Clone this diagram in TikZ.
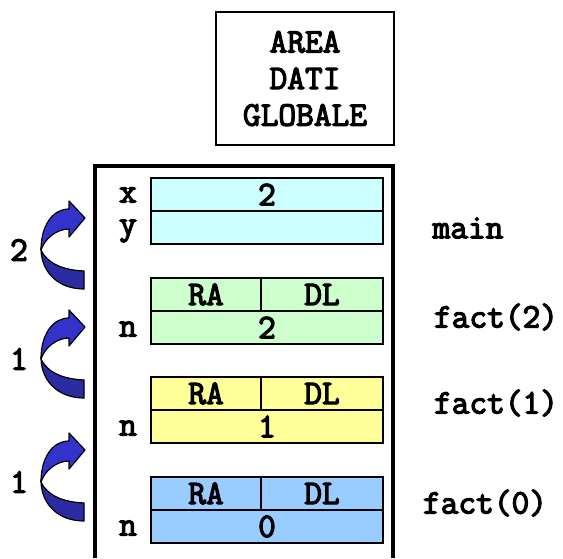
\documentclass[tikz,border=0pt]{standalone}
\usepackage{fontspec}
\setmonofont{Latin Modern Mono}[AutoFakeBold=3.6]
\usepackage{tikz}
\usepackage[rgb]{xcolor}

\definecolor{ciano}{HTML}{CCFFFF}
\definecolor{verde}{HTML}{CCFFCC}
\definecolor{giallo}{HTML}{FFFF99}
\definecolor{azzurro}{HTML}{99CCFF}
\definecolor{blu}{HTML}{3333CC}
\definecolor{bluscuro}{HTML}{2B2BA3}

\tikzset{
	testo/.style={font=\fontsize{17.2}{18.3}\selectfont\ttfamily\bfseries, inner sep=0pt},
	cella/.style={testo, draw, line width=1pt, minimum height=16.5pt},
	intera/.style={cella, minimum width=116pt},
	sinistra/.style={cella, minimum width=55pt},
	destra/.style={cella, minimum width=61pt},
}

\begin{document}
\begin{tikzpicture}[x=0.5pt,y=-0.5pt]
	\useasboundingbox (0,0) rectangle (563,558);
	% area dati globale
	\node[testo, draw, line width=1pt, minimum width=89pt, minimum height=66.5pt, align=center] (globale) at (305,78.5) {AREA\\DATI\\GLOBALE};
	% bordo dello stack
	\draw[line width=1.8pt] (95,558) -- (95,166) -- (393,166) -- (393,558);
	% record del main
	\node[intera, fill=ciano] (mx) at (267,194.5) {2};
	\node[intera, fill=ciano] (my) at (267,227.5) {};
	\node[testo] (lx) at (128,195) {x};
	\node[testo] (ly) at (128,231) {y};
	\node[testo] (main) at (468,228) {main};
	% record di fact(2)
	\node[sinistra, fill=verde] (ra2) at (206,294.5) {RA};
	\node[destra, fill=verde] (dl2) at (322,294.5) {DL};
	\node[intera, fill=verde] (n2) at (267,327.5) {2};
	\node[testo] (ln2) at (128,329) {n};
	\node[testo] (f2) at (496,317) {fact(2)};
	% record di fact(1)
	\node[sinistra, fill=giallo] (ra1) at (206,393.5) {RA};
	\node[destra, fill=giallo] (dl1) at (322,393.5) {DL};
	\node[intera, fill=giallo] (n1) at (267,426.5) {1};
	\node[testo] (ln1) at (128,428) {n};
	\node[testo] (f1) at (496,403) {fact(1)};
	% record di fact(0)
	\node[sinistra, fill=azzurro] (ra0) at (206,493.5) {RA};
	\node[destra, fill=azzurro] (dl0) at (322,493.5) {DL};
	\node[intera, fill=azzurro] (n0) at (267,526.5) {0};
	\node[testo] (ln0) at (128,528) {n};
	\node[testo] (f0) at (485,503) {fact(0)};
	% frecce curve
	\foreach \dy/\num in {0/2,109/1,232/1}{
		\begin{scope}[shift={(0,\dy)}]
			\draw[fill=bluscuro, line width=0.6pt] (41,250) .. controls (42,274) and (60,289) .. (84,289) -- (84,271) .. controls (62,270) and (47,263) .. cycle;
			\draw[fill=blu, line width=0.6pt, line join=round] (41,250) .. controls (41,225) and (53,209) .. (69,209) -- (69,201) -- (85,218) -- (69,237) -- (69,229) .. controls (57,229) and (45,238) .. cycle;
			\node[testo] (num\dy) at (19,250) {\num};
		\end{scope}
	}
\end{tikzpicture}
\end{document}
